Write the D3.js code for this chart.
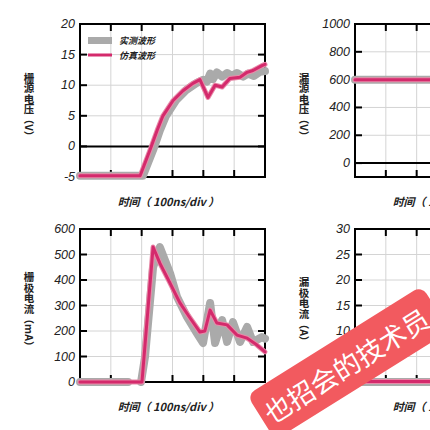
<!DOCTYPE html>
<html>
<head>
<meta charset="utf-8">
<script src="https://cdn.jsdelivr.net/npm/d3@7"></script>
<style>
  body { margin: 0; background: #fff; }
  svg { display: block; }
</style>
</head>
<body>
<div id="plot"></div>
<script>
// time axis, 100ns per division
var xTicks = [0, 100, 200, 300, 400, 500, 600];

var yLabels = ["栅源电压（V）", "漏源电压（V）", "栅极电流（mA）", "漏极电流（A）"];
var yDomains = [[-5, 20], [-100, 1000], [0, 600], [0, 30]];
var yTicks = [
    [-5, 0, 5, 10, 15, 20],
    [0, 200, 400, 600, 800, 1000],
    [0, 100, 200, 300, 400, 500, 600],
    [0, 5, 10, 15, 20, 25, 30]
];
var xLabel = "时间（ 100ns/div ）";
var legendNames = ["实测波形", "仿真波形"];

// [time ns, value]
var vgsMeasured = [[0,-4.8],[204,-4.8],[237,-0.6],[259,2.6],[279,5],[311,7.5],[344,9.2],[376,10.3],[399,10.9],[412,10.6],[422,11.9],[431,11.0],[444,12.1],[461,11.4],[477,12.0],[493,11.5],[509,12.0],[529,11.4],[545,11.9],[564,11.5],[584,12.2],[600,12.3]];
var vgsSimulated = [[0,-4.8],[195,-4.8],[227,-0.6],[250,2.6],[269,5],[302,7.5],[334,9.1],[366,10.3],[389,10.9],[415,8.0],[438,10.0],[461,9.7],[486,11.1],[519,11.3],[542,12.1],[561,12.4],[590,13.2],[600,13.4]];

var vdsMeasured = [[0,600],[100,600],[200,600],[300,600],[400,600],[500,600],[600,600]];
var vdsSimulated = [[0,600],[100,600],[200,600],[300,600],[400,600],[500,600],[600,600]];

var igMeasured = [[0,0],[156,0],null,[198,0],[211,100],[237,450],[259,529],[292,427],[315,333],[347,255],[379,192],[399,153],[422,310],[438,153],[461,243],[477,157],[496,235],[519,157],[542,216],[561,157],[590,176],[600,170]];
var igSimulated = [[0,0],[201,0],[237,529],[259,466],[292,388],[324,310],[357,251],[389,196],[405,200],[422,282],[444,231],[477,224],[509,184],[542,172],[574,145],[600,118]];

var idMeasured = [[0,0],[200,0],[400,0],[600,0]];
var idSimulated = [[0,0.1],[200,0.1],[400,0.1],[600,0.1]];

var measuredSets = [vgsMeasured, vdsMeasured, igMeasured, idMeasured];
var simulatedSets = [vgsSimulated, vdsSimulated, igSimulated, idSimulated];

var panels = [
    {left: 80, top: 24},
    {left: 355, top: 24},
    {left: 80, top: 229},
    {left: 355, top: 229}
];
var pw = 185, ph = 153;

var svg = d3.select("#plot")
    .append("svg")
    .attr("width", 430)
    .attr("height", 430);

var grayColor = "#aaaaaa";
var pinkColor = "#d42a6c";
var cjkFont = "'Noto Sans CJK SC', sans-serif";

// stacked vertical label: CJK upright, latin and brackets turned sideways
function verticalLabel(g, text, cx, cy, size)
{
    var tokens = text.match(/[A-Za-z0-9]+|./g);
    var items = [];
    var total = 0;
    tokens.forEach(function(tk) {
        var upright = /[\u4e00-\u9fff]/.test(tk);
        var t = g.append("text")
            .style("font-family", cjkFont)
            .style("font-weight", "bold")
            .style("font-size", size + "px")
            .style("fill", "#222")
            .attr("text-anchor", "middle")
            .attr("dominant-baseline", "central")
            .text(tk);
        var len = upright ? size : t.node().getComputedTextLength();
        items.push({node: t, upright: upright, len: len});
        total += len;
    });
    var yy = cy - total / 2;
    items.forEach(function(it) {
        var c = yy + it.len / 2;
        if (it.upright) {
            it.node.attr("x", cx).attr("y", c);
        } else {
            it.node.attr("transform", `translate(${cx},${c}) rotate(90)`);
        }
        yy += it.len;
    });
}

panels.forEach(function(p, i) {
    var g = svg.append("g").attr("transform", `translate(${p.left},${p.top})`);

    var x = d3.scaleLinear().domain([0, 600]).range([0, pw]);
    var y = d3.scaleLinear().domain(yDomains[i]).range([ph, 0]);

    var inner = xTicks.slice(1, -1);
    var yInner = yTicks[i].filter(d => d > yDomains[i][0] && d < yDomains[i][1]);

    // grid
    g.selectAll(".vgrid")
        .data(inner)
        .join("line")
        .attr("x1", d => x(d)).attr("x2", d => x(d))
        .attr("y1", 0).attr("y2", ph)
        .style("stroke", "#d4d4d4").style("stroke-width", 1);

    g.selectAll(".hgrid")
        .data(yInner)
        .join("line")
        .attr("x1", 0).attr("x2", pw)
        .attr("y1", d => y(d)).attr("y2", d => y(d))
        .style("stroke", "#d4d4d4").style("stroke-width", 1);

    // zero line
    if (yDomains[i][0] < 0) {
        g.append("line")
            .attr("x1", 0).attr("x2", pw)
            .attr("y1", y(0)).attr("y2", y(0))
            .style("stroke", "#000").style("stroke-width", 2);
    }

    // inward ticks
    g.selectAll(".tt").data(inner).join("line")
        .attr("x1", d => x(d)).attr("x2", d => x(d))
        .attr("y1", 0).attr("y2", 7)
        .style("stroke", "#000").style("stroke-width", 2);
    g.selectAll(".bt").data(inner).join("line")
        .attr("x1", d => x(d)).attr("x2", d => x(d))
        .attr("y1", ph).attr("y2", ph - 7)
        .style("stroke", "#000").style("stroke-width", 2);

    g.selectAll(".lt").data(yInner).join("line")
        .attr("x1", 0).attr("x2", 7)
        .attr("y1", d => y(d)).attr("y2", d => y(d))
        .style("stroke", "#000").style("stroke-width", 2);
    g.selectAll(".rt").data(yInner).join("line")
        .attr("x1", pw).attr("x2", pw - 7)
        .attr("y1", d => y(d)).attr("y2", d => y(d))
        .style("stroke", "#000").style("stroke-width", 2);

    // frame
    g.append("rect")
        .attr("width", pw).attr("height", ph)
        .style("fill", "none").style("stroke", "#000").style("stroke-width", 2);

    // tick labels
    g.selectAll(".ylab").data(yTicks[i]).join("text")
        .attr("x", -5)
        .attr("y", d => y(d))
        .attr("text-anchor", "end")
        .attr("dominant-baseline", "central")
        .style("font-family", "'Liberation Sans', Arial, sans-serif")
        .style("font-style", "italic")
        .style("font-size", "12.5px")
        .style("fill", "#222")
        .text(d => d);

    // axis titles
    verticalLabel(g, yLabels[i], -51, ph / 2 + 6, 10.5);

    g.append("text")
        .attr("x", pw / 2 - 4)
        .attr("y", ph + 24)
        .attr("text-anchor", "middle")
        .attr("dominant-baseline", "central")
        .style("font-family", cjkFont)
        .style("font-style", "italic")
        .style("font-weight", "bold")
        .style("font-size", "11px")
        .style("fill", "#222")
        .text(xLabel);

    var line = d3.line()
        .defined(d => d != null)
        .x(d => x(d[0]))
        .y(d => y(d[1]));

    g.append("path")
        .attr("d", line(measuredSets[i]))
        .style("fill", "none")
        .style("stroke", grayColor)
        .style("stroke-width", 8)
        .style("stroke-linecap", "round")
        .style("stroke-linejoin", "round");

    g.append("path")
        .attr("d", line(simulatedSets[i]))
        .style("fill", "none")
        .style("stroke", "#e88aa8")
        .style("stroke-width", 5)
        .style("stroke-linecap", "round")
        .style("stroke-linejoin", "round");

    g.append("path")
        .attr("d", line(simulatedSets[i]))
        .style("fill", "none")
        .style("stroke", pinkColor)
        .style("stroke-width", 3)
        .style("stroke-linecap", "round")
        .style("stroke-linejoin", "round");

    // legend (first panel only)
    if (i == 0) {
        var lg = g.append("g").attr("transform", "translate(8,0)");
        lg.append("rect")
            .attr("x", 0).attr("y", 13)
            .attr("width", 24).attr("height", 7)
            .style("fill", grayColor);
        lg.append("line")
            .attr("x1", 0).attr("x2", 24)
            .attr("y1", 31).attr("y2", 31)
            .style("stroke", pinkColor).style("stroke-width", 3);
        lg.selectAll(".lgtext").data(legendNames).join("text")
            .attr("x", 31)
            .attr("y", (d, k) => 16.5 + k * 14.5)
            .attr("dominant-baseline", "central")
            .style("font-family", cjkFont)
            .style("font-style", "italic")
            .style("font-weight", "bold")
            .style("font-size", "9px")
            .style("fill", "#222")
            .text(d => d);
    }
});

// watermark banner
var wm = svg.append("g").attr("transform", "translate(247,395) rotate(-32)");
wm.append("rect")
    .attr("x", 0).attr("y", 0)
    .attr("width", 206).attr("height", 53)
    .attr("rx", 9)
    .style("fill", "#f25a5f");
wm.append("text")
    .attr("x", 100).attr("y", 27)
    .attr("text-anchor", "middle")
    .attr("dominant-baseline", "central")
    .style("font-family", cjkFont)
    .style("font-size", "27px")
    .style("fill", "#fff")
    .text("也招会的技术员");
</script>
</body>
</html>
